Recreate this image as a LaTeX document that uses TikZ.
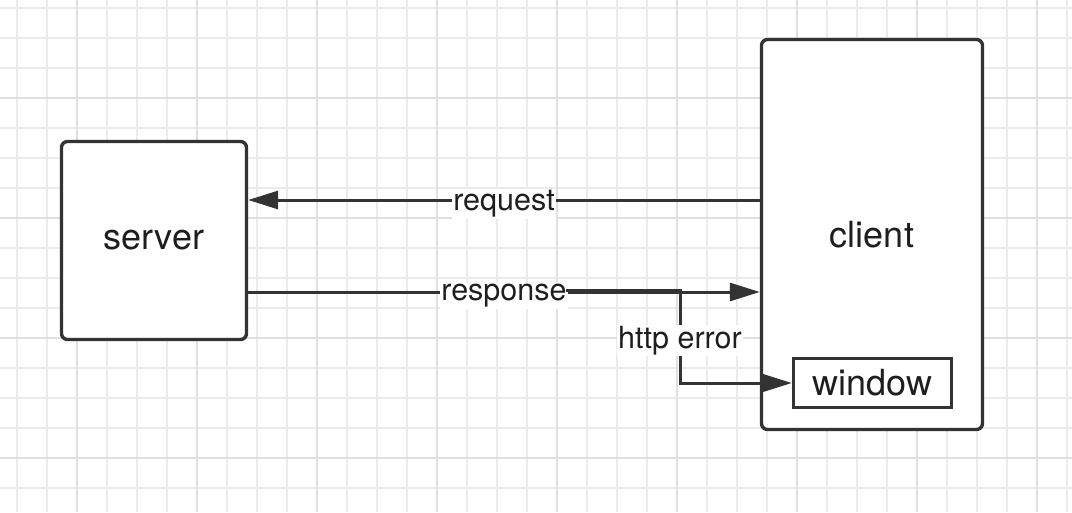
\documentclass[tikz,border=0pt]{standalone}
\usepackage{fontspec}
\setmainfont{TeX Gyre Heros}
\usetikzlibrary{arrows.meta}
\definecolor{gridminor}{HTML}{EBEBEB}
\definecolor{gridmajor}{HTML}{E0E0E0}
\definecolor{ink}{HTML}{333333}
\definecolor{txt}{HTML}{1E1E1E}
\newcommand{\lowtext}[1]{\raisebox{-3pt}{#1}}
\tikzset{
  box/.style={draw=ink, line width=3.4pt, fill=white, inner sep=0pt, text=txt,
    font=\fontsize{36}{40}\selectfont},
  conn/.style={draw=ink, line width=3pt, -{Triangle[length=30pt,width=18pt]}},
  elabel/.style={fill=white, inner sep=1.5pt, text=txt, yshift=-4pt, font=\fontsize{30.5}{34}\selectfont},
}
\begin{document}
\begin{tikzpicture}[x=1pt,y=-1pt]
\useasboundingbox (0,0) rectangle (1072,512);
\fill[white] (0,0) rectangle (1072,512);
% grid
\foreach \x in {17,47,...,1072} \draw[gridminor, line width=1.6pt] (\x,0) -- (\x,512);
\foreach \y in {8,38,...,512} \draw[gridminor, line width=1.6pt] (0,\y) -- (1072,\y);
\foreach \x in {77,197,...,1072} \draw[gridmajor, line width=1.8pt] (\x,0) -- (\x,512);
\foreach \y in {98,218,338,458} \draw[gridmajor, line width=1.8pt] (0,\y) -- (1072,\y);
% nodes
\node[box, rounded corners=6pt, minimum width=185pt, minimum height=198pt] (server) at (154,240.5) {\lowtext{server}};
\node[box, rounded corners=6pt, minimum width=221pt, minimum height=390pt] (client) at (872,234.5) {\lowtext{client}};
\node[box, minimum width=158pt, minimum height=49pt] (window) at (872.5,383) {\lowtext{window}};
% helper coordinates
\coordinate (rqy) at (0,200);
\coordinate (rsy) at (0,292);
\coordinate (herr) at (566,290);
\coordinate (hc) at (680,290);
% connectors
\draw[conn] (client.west |- rqy) -- node[elabel] (lreq) {request} (server.east |- rqy);
\draw[conn] (server.east |- rsy) -- node[elabel] (lresp) {response} (client.west |- rsy);
\draw[conn] (herr) -- (hc) |- node[elabel, pos=0.25] (lherr) {http error} (window.west);
\end{tikzpicture}
\end{document}
